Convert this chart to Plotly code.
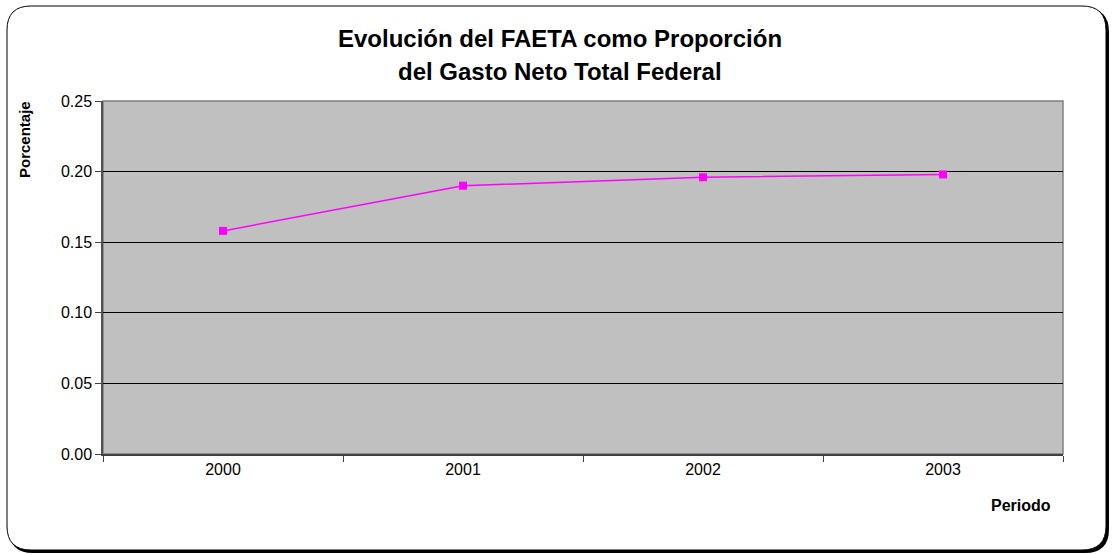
import plotly.graph_objects as go

periods = ["2000", "2001", "2002", "2003"]
values = [0.158, 0.190, 0.196, 0.198]
y_ticks = [0.00, 0.05, 0.10, 0.15, 0.20, 0.25]
title_lines = ["Evolución del FAETA como Proporción", "del Gasto Neto Total Federal"]

W, H = 1112, 554
L, R, T, B = 103, 1063, 101, 454

def px(x):
    return (x - L) / (R - L)

def py(y):
    return (B - y) / (B - T)

def rrect(x0, y0, x1, y1, r):
    return (f"M {px(x0+r)} {py(y0)} L {px(x1-r)} {py(y0)} "
            f"Q {px(x1)} {py(y0)} {px(x1)} {py(y0+r)} "
            f"L {px(x1)} {py(y1-r)} Q {px(x1)} {py(y1)} {px(x1-r)} {py(y1)} "
            f"L {px(x0+r)} {py(y1)} Q {px(x0)} {py(y1)} {px(x0)} {py(y1-r)} "
            f"L {px(x0)} {py(y0+r)} Q {px(x0)} {py(y0)} {px(x0+r)} {py(y0)} Z")

fig = go.Figure()
fig.add_trace(go.Scatter(
    x=periods, y=values, mode="lines+markers",
    line=dict(color="#FF00FF", width=1.5),
    marker=dict(symbol="square", size=8, color="#FF00FF"),
    showlegend=False, cliponaxis=False,
))

font = "Arial, 'Liberation Sans', sans-serif"
annotations = [
    dict(text=f"<b>{title_lines[0]}</b>", xref="paper", yref="paper",
         x=px(560), y=py(38), showarrow=False, xanchor="center", yanchor="middle",
         font=dict(size=24)),
    dict(text=f"<b>{title_lines[1]}</b>", xref="paper", yref="paper",
         x=px(560), y=py(71), showarrow=False, xanchor="center", yanchor="middle",
         font=dict(size=24)),
    dict(text="<b>Porcentaje</b>", xref="paper", yref="paper",
         x=px(24), y=py(140), textangle=-90, showarrow=False,
         xanchor="center", yanchor="middle", font=dict(size=15)),
    dict(text="<b>Periodo</b>", xref="paper", yref="paper",
         x=px(1021), y=py(505), showarrow=False,
         xanchor="center", yanchor="middle", font=dict(size=16)),
]

fig.update_layout(
    width=W, height=H,
    margin=dict(l=L, r=W - R, t=T, b=H - B),
    paper_bgcolor="white", plot_bgcolor="#C0C0C0",
    font=dict(family=font, size=16, color="black"),
    xaxis=dict(type="category", range=[-0.5, 3.5], tickson="boundaries",
               ticks="outside", ticklen=6, tickcolor="#404040",
               showgrid=False, showline=True, linecolor="#404040", linewidth=1.5,
               mirror=False, tickfont=dict(size=16), zeroline=False),
    yaxis=dict(range=[0, 0.25], tickvals=y_ticks, ticktext=[f"{v:.2f}" for v in y_ticks],
               ticks="outside", ticklen=6, tickcolor="#404040",
               showgrid=True, gridcolor="black", gridwidth=1,
               showline=True, linecolor="#505050", linewidth=1.5, mirror=False,
               zeroline=False, tickfont=dict(size=16)),
    shapes=[
        dict(type="path", xref="paper", yref="paper", layer="below",
             path=rrect(9, 8, 1109, 553, 24), fillcolor="black", line=dict(width=0)),
        dict(type="path", xref="paper", yref="paper", layer="below",
             path=rrect(7, 6, 1106, 550, 24), fillcolor="white",
             line=dict(color="black", width=1)),
        dict(type="rect", xref="paper", yref="paper", layer="below",
             x0=0, x1=1, y0=0, y1=1, fillcolor="#C0C0C0",
             line=dict(color="#808080", width=1.5)),
    ],
    annotations=annotations,
)

fig.write_html("out.html", config={"displayModeBar": False},
               post_script="document.body.style.margin='0';document.body.style.overflow='hidden';")
